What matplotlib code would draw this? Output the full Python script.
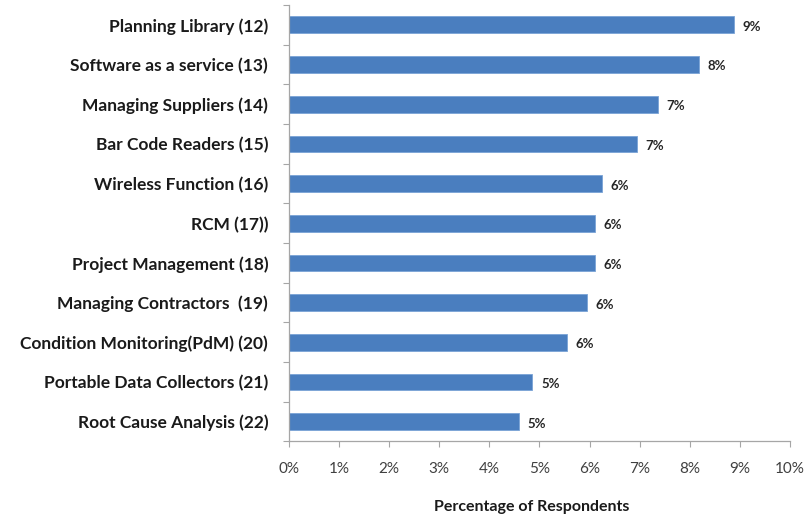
"""Horizontal bar chart: CMMS features, percentage of respondents."""

import numpy as np
import matplotlib.pyplot as plt
from matplotlib.ticker import FixedLocator, PercentFormatter

plt.rcParams['font.family'] = ['Lato', 'DejaVu Sans']

CATEGORIES = [
    'Planning Library (12)',
    'Software as a service (13)',
    'Managing Suppliers (14)',
    'Bar Code Readers (15)',
    'Wireless Function (16)',
    'RCM (17))',
    'Project Management (18)',
    'Managing Contractors  (19)',
    'Condition Monitoring(PdM) (20)',
    'Portable Data Collectors (21)',
    'Root Cause Analysis (22)',
]
VALUES = [8.88, 8.19, 7.36, 6.94, 6.25, 6.11, 6.11, 5.95, 5.55, 4.86, 4.59]
X_TICKS = list(range(0, 11))

BAR_COLOR = '#4a7ebf'
AXIS_COLOR = '#a6a6a6'

fig = plt.figure(figsize=(8.09, 5.2), dpi=100)
ax = fig.add_axes([0.3572, 0.151, 0.6193, 0.8394])

y = np.arange(len(CATEGORIES))[::-1]
bars = ax.barh(y, VALUES, height=0.42, color=BAR_COLOR, edgecolor='#7aa3d6',
               linewidth=0.6)

for b, v in zip(bars, VALUES):
    ax.text(b.get_width() + 0.17, b.get_y() + b.get_height() / 2 - 0.05,
            f'{v:.0f}%', va='center', ha='left', fontsize=9.5,
            fontweight='bold', color='#262626')

ax.set_xlim(0, 10)
ax.set_ylim(-0.5, len(CATEGORIES) - 0.5)
ax.set_xticks(X_TICKS)
ax.xaxis.set_major_formatter(PercentFormatter(decimals=0))
ax.set_yticks(y)
ax.set_yticklabels(CATEGORIES, fontsize=12.5, fontweight='bold', color='#1a1a1a')
ax.yaxis.set_minor_locator(FixedLocator(np.arange(-0.5, len(CATEGORIES), 1)))
ax.tick_params(axis='y', which='major', length=0, pad=15)
ax.tick_params(axis='y', which='minor', length=4, color=AXIS_COLOR, width=0.8)
ax.tick_params(axis='x', length=4, color=AXIS_COLOR, width=0.8,
               labelsize=11, labelcolor='#404040', pad=11)

for s in ['top', 'right']:
    ax.spines[s].set_visible(False)
for s in ['left', 'bottom']:
    ax.spines[s].set_color(AXIS_COLOR)
    ax.spines[s].set_linewidth(0.9)

ax.set_xlabel('Percentage of Respondents', fontsize=11.5, fontweight='bold',
              color='#1a1a1a', labelpad=16)
ax.xaxis.set_label_coords(0.485, -0.135)

fig.savefig('out.png', dpi=100)
